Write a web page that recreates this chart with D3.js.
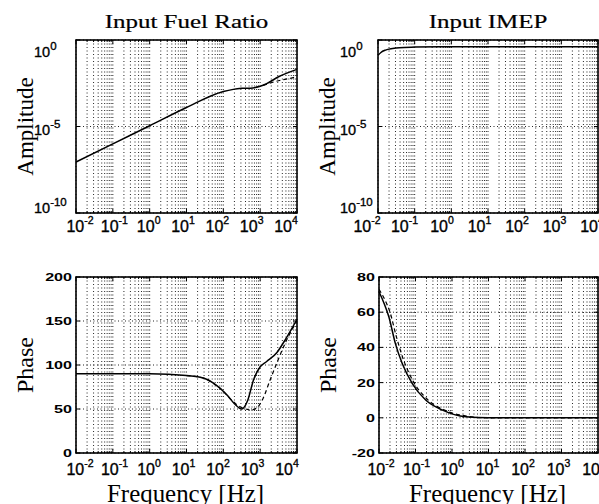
<!DOCTYPE html>
<html>
<head>
<meta charset="utf-8">
<script src="https://cdn.jsdelivr.net/npm/d3@7"></script>
<style>
  body { margin: 0; background: #fff; }
  svg { display: block; }
</style>
</head>
<body>
<svg id="chart" width="599" height="504"></svg>
<script>
// frequency axis, shared by all four panels
const decades = [1e-2, 1e-1, 1e0, 1e1, 1e2, 1e3, 1e4]
const decadeExps = ["-2", "-1", "0", "1", "2", "3", "4"]

// amplitude ticks (log)
const ampTicks = [1e0, 1e-5, 1e-10]
const ampExps = ["0", "-5", "-10"]

// phase ticks
const fuelPhaseTicks = [0, 50, 100, 150, 200]
const imepPhaseTicks = [-20, 0, 20, 40, 60, 80]

// Input Fuel Ratio, amplitude
const fuelAmpFreq = [0.01, 0.1, 1, 10, 100, 186, 316, 630, 1000, 1500, 3160, 10000]
const fuelAmpSolid = [8.9e-8, 1.0e-6, 1.1e-5, 1.26e-4, 1.05e-3, 1.4e-3, 1.6e-3, 1.7e-3, 2.1e-3, 3.0e-3, 7.5e-3, 2.0e-2]
const fuelAmpDashFreq = [1200, 2000, 4000, 7000, 10000]
const fuelAmpDash = [2.4e-3, 3.4e-3, 5.0e-3, 6.3e-3, 7.5e-3]

// Input IMEP, amplitude
const imepAmpFreq = [0.01, 0.012, 0.016, 0.025, 0.038, 0.1, 0.5, 10, 10000]
const imepAmpSolid = [0.13, 0.19, 0.26, 0.32, 0.36, 0.39, 0.41, 0.41, 0.41]

// Input Fuel Ratio, phase
const fuelPhaseFreq = [0.01, 0.1, 1, 10, 30, 54, 126, 200, 316, 460, 660, 1000, 1500, 2820, 5000, 10000]
const fuelPhaseSolid = [90, 90, 90, 88, 85, 79.5, 66, 56, 50, 60, 83, 98, 104, 114, 130, 152]
const fuelPhaseDashFreq = [10, 30, 54, 100, 160, 250, 400, 560, 800, 1200, 1860, 2820, 4800, 8000, 10000]
const fuelPhaseDash = [88, 85, 79, 70, 61, 54, 50, 49, 51, 62, 83, 102, 125, 143, 150]

// Input IMEP, phase
const imepPhaseFreq = [0.01, 0.0138, 0.0186, 0.028, 0.043, 0.081, 0.19, 0.55, 2.4, 10, 10000]
const imepPhaseSolid = [71.6, 65, 57.4, 42.3, 31, 19.6, 10.1, 4.4, 0.6, 0, 0]
const imepPhaseDashFreq = [0.01, 0.0145, 0.02, 0.03, 0.045, 0.085, 0.2, 0.6, 2.5, 10, 10000]
const imepPhaseDash = [73, 67, 60, 46, 34, 21, 11, 4.5, 1, 0, 0]

const minorFactors = [2, 3, 4, 5, 6, 7, 8, 9]

const svg = d3.select("#chart")

const panels = [
  { title: "Input Fuel Ratio", box: [76, 297, 40, 213], kind: "amp",
    freq: fuelAmpFreq, solid: fuelAmpSolid, dashFreq: fuelAmpDashFreq, dash: fuelAmpDash,
    xLab: [80, 286], yLabX: 34 },
  { title: "Input IMEP", box: [378, 598, 40, 213], kind: "amp",
    freq: imepAmpFreq, solid: imepAmpSolid, dashFreq: null, dash: null,
    xLab: [367, 592], yLabX: 340 },
  { title: null, box: [76, 297, 277, 453], kind: "phase", ticks: fuelPhaseTicks,
    freq: fuelPhaseFreq, solid: fuelPhaseSolid, dashFreq: fuelPhaseDashFreq, dash: fuelPhaseDash,
    xLab: [80, 287] },
  { title: null, box: [379, 598, 277, 453], kind: "phase", ticks: imepPhaseTicks,
    freq: imepPhaseFreq, solid: imepPhaseSolid, dashFreq: imepPhaseDashFreq, dash: imepPhaseDash,
    xLab: [381, 594] },
]

function stretched(g, x, y, sx, anchor) {
  return g.append("text")
    .attr("transform", `translate(${x},${y}) scale(${sx},1)`)
    .attr("text-anchor", anchor)
}

function powerLabel(g, x, y, exp, size, supSize, rise, anchor) {
  const t = g.append("text")
    .attr("x", x).attr("y", y)
    .attr("text-anchor", anchor)
    .attr("font-family", "Liberation Sans, Arial, sans-serif")
    .attr("font-size", size)
    .attr("stroke", "#000").attr("stroke-width", 0.35)
  t.append("tspan").text("10")
  t.append("tspan").attr("dy", -rise).attr("font-size", supSize).text(exp)
  return t
}

function drawPanel(p) {
  const [x0, x1, y0, y1] = p.box
  const g = svg.append("g")

  const x = d3.scaleLog().domain([1e-2, 1e4]).range([x0, x1])
  const y = p.kind === "amp"
    ? d3.scaleLog().domain([1e-10, 1e0]).range([y1, y0])
    : d3.scaleLinear().domain(d3.extent(p.ticks)).range([y1, y0])

  // minor + major vertical grid
  const minors = decades.slice(0, -1).flatMap(d => minorFactors.map(m => d * m))
  const gridV = decades.concat(minors)
  g.append("g").selectAll("line").data(gridV).join("line")
    .attr("x1", d => x(d)).attr("x2", d => x(d))
    .attr("y1", y0).attr("y2", y1)
    .attr("stroke", "#000").attr("stroke-width", 1)
    .attr("stroke-dasharray", "1,2.5")
    .attr("opacity", 0.85)

  const yMajor = p.kind === "amp" ? ampTicks : p.ticks
  g.append("g").selectAll("line").data(yMajor).join("line")
    .attr("x1", x0).attr("x2", x1)
    .attr("y1", d => y(d)).attr("y2", d => y(d))
    .attr("stroke", "#000").attr("stroke-width", 1)
    .attr("stroke-dasharray", "1,2.5")
    .attr("opacity", 0.85)

  // inward ticks on all sides
  const tickG = g.append("g").attr("stroke", "#000").attr("stroke-width", 1)
  for (const d of decades) {
    tickG.append("line").attr("x1", x(d)).attr("x2", x(d)).attr("y1", y1).attr("y2", y1 - 4)
    tickG.append("line").attr("x1", x(d)).attr("x2", x(d)).attr("y1", y0).attr("y2", y0 + 4)
  }
  for (const d of minors) {
    tickG.append("line").attr("x1", x(d)).attr("x2", x(d)).attr("y1", y1).attr("y2", y1 - 2)
    tickG.append("line").attr("x1", x(d)).attr("x2", x(d)).attr("y1", y0).attr("y2", y0 + 2)
  }
  for (const d of yMajor) {
    tickG.append("line").attr("x1", x0).attr("x2", x0 + 4).attr("y1", y(d)).attr("y2", y(d))
    tickG.append("line").attr("x1", x1).attr("x2", x1 - 4).attr("y1", y(d)).attr("y2", y(d))
  }

  // curves
  const line = (fs, vs) => d3.line()
    .x((d, i) => x(fs[i])).y(d => y(d))
    .curve(d3.curveMonotoneX)(vs)

  g.append("path").attr("d", line(p.freq, p.solid))
    .attr("fill", "none").attr("stroke", "#000").attr("stroke-width", 1.5)
  if (p.dash) {
    g.append("path").attr("d", line(p.dashFreq, p.dash))
      .attr("fill", "none").attr("stroke", "#000").attr("stroke-width", 1.2)
      .attr("stroke-dasharray", "4,3")
  }

  // box
  g.append("rect").attr("x", x0).attr("y", y0)
    .attr("width", x1 - x0).attr("height", y1 - y0)
    .attr("fill", "none").attr("stroke", "#000").attr("stroke-width", 1.6)

  // x tick labels
  const xl = d3.scaleLog().domain([1e-2, 1e4]).range(p.xLab)
  const xBase = p.kind === "amp" ? 232 : 475
  decades.forEach((d, i) => {
    powerLabel(g, xl(d), xBase, decadeExps[i], 16, 10.5, 8, "middle")
  })

  // y tick labels
  if (p.kind === "amp") {
    const yl = d3.scaleLog().domain([1e-10, 1e0]).range([213, 57])
    ampTicks.forEach((d, i) => {
      const t = powerLabel(g, p.yLabX, yl(d), ampExps[i], 14.5, 11.5, 7, "start")
      const w = t.node().getComputedTextLength()
      if (p.yLabX + w > x0 - 1) t.attr("x", x0 - 1 - w)
    })
  } else {
    p.ticks.forEach(d => {
      stretched(g, x0 - 4, y(d) + 4, 1.4, "end")
        .attr("font-family", "Liberation Sans, Arial, sans-serif")
        .attr("font-weight", "bold")
        .attr("font-size", 11.5)
        .text(d)
    })
  }

  // axis titles
  const cx = (x0 + x1) / 2, cy = (y0 + y1) / 2
  g.append("text")
    .attr("transform", `translate(${x0 - 43},${cy}) rotate(-90)`)
    .attr("text-anchor", "middle")
    .attr("font-family", "Liberation Serif, Times New Roman, serif")
    .attr("font-size", p.kind === "amp" ? 23 : 24)
    .text(p.kind === "amp" ? "Amplitude" : "Phase")

  if (p.title) {
    stretched(g, cx, 28, 1.35, "middle")
      .attr("font-family", "Liberation Serif, Times New Roman, serif")
      .attr("font-size", 18.5)
      .attr("stroke", "#000").attr("stroke-width", 0.2)
      .text(p.title)
  } else {
    g.append("text")
      .attr("x", cx - 1).attr("y", 502)
      .attr("text-anchor", "middle")
      .attr("font-family", "Liberation Serif, Times New Roman, serif")
      .attr("font-size", 26)
      .attr("textLength", 157)
      .attr("lengthAdjust", "spacingAndGlyphs")
      .text("Frequency [Hz]")
  }
}

panels.forEach(drawPanel)
</script>
</body>
</html>
